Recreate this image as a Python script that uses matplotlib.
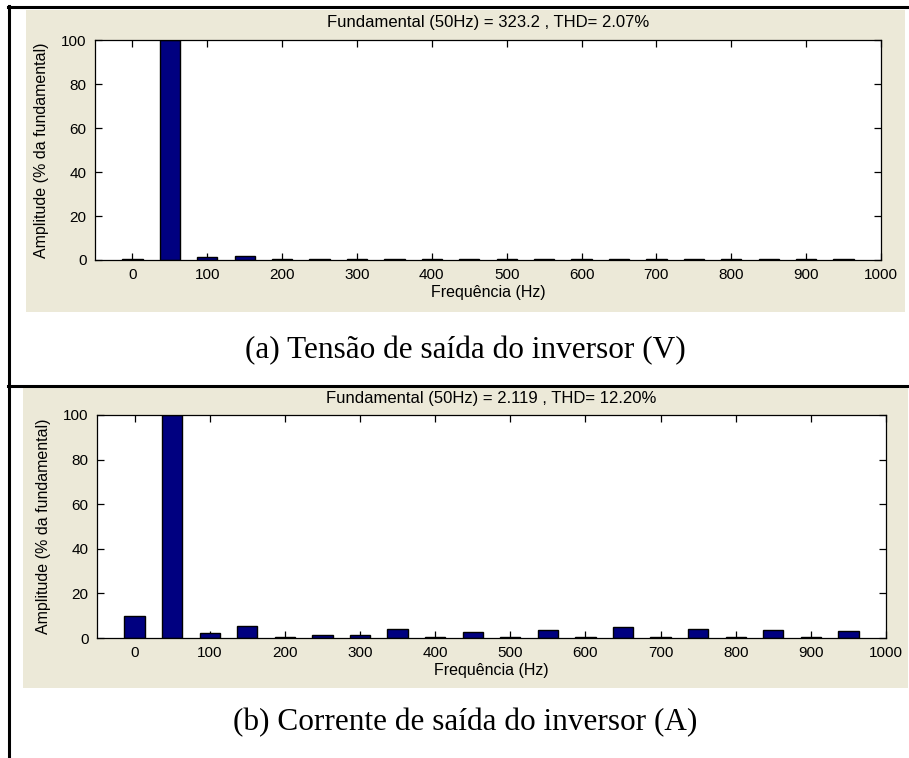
import numpy as np
import matplotlib
matplotlib.use('Agg')
import matplotlib.pyplot as plt
from matplotlib.patches import Rectangle
from matplotlib.lines import Line2D

# harmonic frequencies (Hz)
freq = [0, 50, 100, 150, 200, 250, 300, 350, 400, 450,
        500, 550, 600, 650, 700, 750, 800, 850, 900, 950]

# (a) tensão - % da fundamental
amp_v = [0.5, 100, 1.2, 1.7, 0.5, 0.4, 0.5, 0.4, 0.5, 0.4,
         0.5, 0.4, 0.5, 0.4, 0.5, 0.4, 0.5, 0.4, 0.5, 0.4]

# (b) corrente - % da fundamental
amp_i = [9.8, 100, 2.2, 5.6, 0.5, 1.3, 1.3, 4.0, 0.5, 2.6,
         0.5, 3.7, 0.5, 5.0, 0.5, 4.1, 0.5, 3.6, 0.5, 3.0]

titulo_v = 'Fundamental (50Hz) = 323.2 , THD= 2.07%'
titulo_i = 'Fundamental (50Hz) = 2.119 , THD= 12.20%'
legenda_v = '(a) Tensão de saída do inversor (V)'
legenda_i = '(b) Corrente de saída do inversor (A)'

xticks = [0, 100, 200, 300, 400, 500, 600, 700, 800, 900, 1000]
yticks = [0, 20, 40, 60, 80, 100]

W, H = 909, 758
BEGE = '#ECE9D8'
AZUL = '#000080'
FONTE = 'Liberation Sans'


def fx(px):
    return px / W


def fy(py):
    return 1 - py / H


def painel(fig, caixa, eixo, amp, titulo, legenda, y_leg):
    bx0, by0, bx1, by1 = caixa
    fig.add_artist(Rectangle((fx(bx0), fy(by1)), fx(bx1 - bx0), (by1 - by0) / H,
                             transform=fig.transFigure, facecolor=BEGE,
                             edgecolor='none', zorder=0))

    x0, y0, x1, y1 = eixo
    ax = fig.add_axes([fx(x0), fy(y1), fx(x1 - x0), (y1 - y0) / H])
    ax.set_facecolor('white')
    ax.bar(freq, amp, width=27, color=AZUL, edgecolor='black', linewidth=1.0, zorder=2)

    ax.set_xlim(-50, 1000)
    ax.set_ylim(0, 100)
    ax.set_xticks(xticks)
    ax.set_yticks(yticks)
    ax.tick_params(direction='in', length=5, width=0.9, top=True, right=True,
                   labelsize=11, pad=6, colors='black')
    ax.tick_params(axis='y', pad=6)
    for lbl in ax.get_xticklabels() + ax.get_yticklabels():
        lbl.set_family(FONTE)
    for sp in ax.spines.values():
        sp.set_linewidth(0.9)
        sp.set_zorder(3)

    ax.set_xlabel('Frequência (Hz)', fontsize=11.5, family=FONTE, labelpad=2)
    ax.set_ylabel('Amplitude (% da fundamental)', fontsize=11.5, family=FONTE, labelpad=9)
    ax.set_title(titulo, fontsize=12, family=FONTE, pad=9)

    fig.text(fx((bx0 + bx1) / 2), fy(y_leg), legenda, ha='center', va='center',
             fontsize=22.5, family='Liberation Serif')
    return ax


fig = plt.figure(figsize=(W / 100, H / 100), dpi=100)
fig.patch.set_facecolor('white')

painel(fig, (26, 10, 905, 312), (95, 40, 881, 260), amp_v, titulo_v, legenda_v, 351)
painel(fig, (23, 388, 908, 688), (97, 415, 886, 638), amp_i, titulo_i, legenda_i, 723)

# bordas da tabela
for xs, ys in [((8, 909), (7, 7)), ((8.5, 8.5), (6, 758)), ((8, 909), (386, 386))]:
    fig.add_artist(Line2D([fx(v) for v in xs], [fy(v) for v in ys],
                          transform=fig.transFigure, color='black', linewidth=2.2))

fig.savefig('out.png', dpi=100)
